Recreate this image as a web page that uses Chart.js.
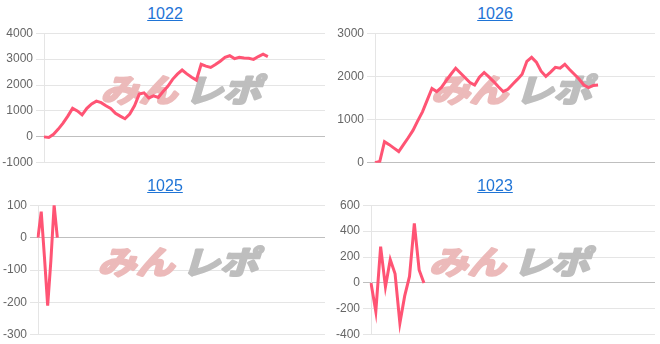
<!DOCTYPE html>
<html>
<head>
<meta charset="utf-8">
<script src="https://cdn.jsdelivr.net/npm/chart.js@4"></script>
<style>
  body { margin: 0; width: 660px; height: 344px; background: #fff; overflow: hidden; }
  .cell { position: absolute; width: 330px; height: 172px; }
  .title { position: absolute; top: 2px; left: 0; width: 100%; text-align: center;
           font: 16px "Liberation Sans", Arial, sans-serif; line-height: 24px; }
  .title a { color: #1f74d6; text-decoration: underline; }
  .box { position: absolute; top: 23px; left: 0; width: 325px; height: 150px; }
</style>
</head>
<body>
<div class="cell" style="left:0;top:0">
  <div class="title"><a href="#">1022</a></div>
  <div class="box"><canvas id="c1022"></canvas></div>
</div>
<div class="cell" style="left:330px;top:0">
  <div class="title"><a href="#">1026</a></div>
  <div class="box"><canvas id="c1026"></canvas></div>
</div>
<div class="cell" style="left:0;top:172px">
  <div class="title"><a href="#">1025</a></div>
  <div class="box"><canvas id="c1025"></canvas></div>
</div>
<div class="cell" style="left:330px;top:172px">
  <div class="title"><a href="#">1023</a></div>
  <div class="box"><canvas id="c1023"></canvas></div>
</div>
<script>
// values, one per game
const data1022 = [0, -20, 100, 300, 530, 800, 1100, 1000, 850, 1100,
    1270, 1380, 1320, 1200, 1100, 910, 800, 700, 880, 1200,
    1650, 1700, 1500, 1580, 1520, 1750, 1950, 2220, 2420, 2580,
    2430, 2300, 2190, 2800, 2730, 2680, 2790, 2920, 3070, 3130,
    3020, 3070, 3040, 3030, 2990, 3100, 3190, 3100];
const data1026 = [0, 30, 490, 420, 340, 260, 420, 580, 750, 970,
    1180, 1450, 1720, 1650, 1745, 1900, 2050, 2190, 2080, 1970,
    1860, 1800, 1980, 2090, 1990, 1880, 1760, 1650, 1700, 1820,
    1930, 2050, 2350, 2440, 2330, 2120, 2000, 2100, 2210, 2190,
    2280, 2160, 2050, 1940, 1800, 1740, 1790, 1800];
const data1025 = [0, 80, -60, -210, -70, 100, 0];
const data1023 = [0, -220, 280, -30, 180, 70, -310, -100, 50, 460, 100, 0];

// y axis ranges as shown
const yMin = { 1022: -1000, 1026: 0, 1025: -300, 1023: -400 };
const yMax = { 1022: 4000, 1026: 3000, 1025: 100, 1023: 600 };
const yStep = { 1022: 1000, 1026: 1000, 1025: 100, 1023: 200 };
// number of slots on the (hidden) x axis
const slots = { 1022: 60, 1026: 60, 1025: 90, 1023: 60 };
// width of the y axis column
const axisWidth = { 1022: 44, 1026: 45, 1025: 38, 1023: 41 };

const watermark = {
    id: 'watermark',
    beforeDatasetsDraw(chart) {
        const ctx = chart.ctx;
        const a = chart.chartArea;
        const cx = (a.left + a.right) / 2;
        const cy = (a.top + a.bottom) / 2 - 8;
        ctx.save();
        ctx.font = 'bold 32px "Noto Sans CJK JP"';
        ctx.textBaseline = 'middle';
        ctx.lineJoin = 'round';
        ctx.lineWidth = 2.5;
        const w1 = ctx.measureText('みん').width;
        const w2 = ctx.measureText('レポ').width;
        const sx = 1.2;
        const total = (w1 + w2 + 6) * sx;
        ctx.translate(cx - total / 2, cy);
        ctx.transform(sx, 0, -0.3, 1, 0, 0);
        ctx.fillStyle = ctx.strokeStyle = 'rgb(236, 186, 186)';
        ctx.fillText('みん', 0, 0);
        ctx.strokeText('みん', 0, 0);
        ctx.fillStyle = ctx.strokeStyle = 'rgb(190, 190, 190)';
        ctx.fillText('レポ', w1 + 6, 0);
        ctx.strokeText('レポ', w1 + 6, 0);
        ctx.restore();
    }
};

function setupChart(name, values) {
    const ctx = document.getElementById('c' + name).getContext('2d');
    const labels = Array.from({ length: slots[name] }, (_, i) => String(i + 1));
    new Chart(ctx, {
        type: 'line',
        data: {
            labels: labels,
            datasets: [{
                data: values,
                borderColor: 'rgb(255, 84, 116)',
                backgroundColor: 'rgba(255, 99, 132, 0.2)',
                borderWidth: 3,
                pointRadius: 0,
                tension: 0,
                fill: false
            }]
        },
        options: {
            responsive: true,
            maintainAspectRatio: false,
            animation: false,
            plugins: {
                legend: { display: false },
                tooltip: { enabled: false }
            },
            scales: {
                x: { display: false },
                y: {
                    min: yMin[name],
                    max: yMax[name],
                    afterFit: (scale) => { scale.width = axisWidth[name]; },
                    ticks: {
                        stepSize: yStep[name],
                        color: '#666',
                        font: { size: 12, family: '"Liberation Sans", Arial, sans-serif' },
                        callback: (v) => String(v)
                    },
                    grid: {
                        color: (c) => c.tick && c.tick.value === 0 ? 'rgba(0,0,0,0.25)' : 'rgba(0,0,0,0.1)'
                    }
                }
            }
        },
        plugins: [watermark]
    });
}

setupChart(1022, data1022);
setupChart(1026, data1026);
setupChart(1025, data1025);
setupChart(1023, data1023);
</script>
</body>
</html>
